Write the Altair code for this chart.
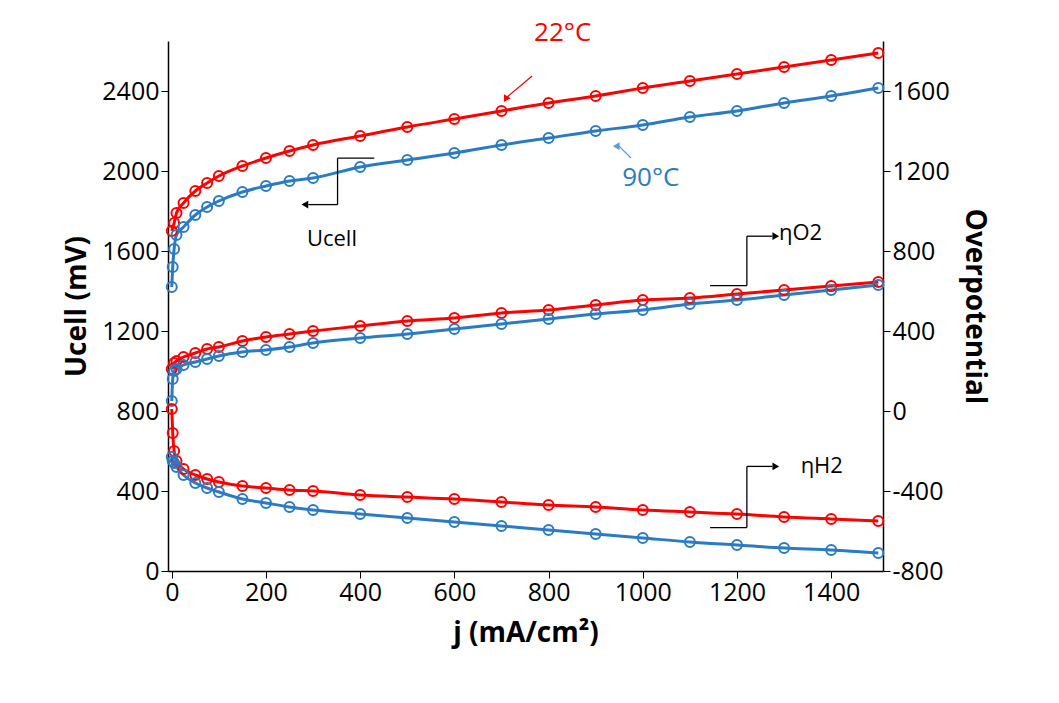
import altair as alt
import pandas as pd

j_22 = [0, 5, 10, 25, 50, 75, 100, 150, 200, 250, 300, 400, 500, 600, 700, 800, 900, 1000, 1100, 1200, 1300, 1400, 1500]
j_90 = [0, 2, 5, 10, 25, 50, 75, 100, 150, 200, 250, 300, 400, 500, 600, 700, 800, 900, 1000, 1100, 1200, 1300, 1400, 1500]
j_h22 = j_90

u_22 = [1700, 1740, 1790, 1840, 1900, 1940, 1975, 2025, 2065, 2100, 2130, 2175, 2220, 2260, 2300, 2340, 2375, 2415, 2450, 2485, 2520, 2555, 2590]
u_90 = [1420, 1520, 1610, 1680, 1720, 1780, 1820, 1850, 1895, 1925, 1950, 1965, 2020, 2055, 2090, 2130, 2165, 2200, 2230, 2270, 2300, 2340, 2375, 2415]
# overpotentials, plotted on the left scale (overpotential + 800)
o2_22 = [1010, 1040, 1050, 1070, 1090, 1110, 1120, 1150, 1170, 1185, 1200, 1225, 1250, 1265, 1290, 1305, 1330, 1355, 1365, 1385, 1405, 1425, 1445]
o2_90 = [850, 960, 1000, 1010, 1030, 1045, 1060, 1075, 1095, 1105, 1120, 1140, 1165, 1185, 1210, 1235, 1260, 1285, 1305, 1335, 1355, 1380, 1405, 1430]
h2_22 = [810, 690, 600, 550, 510, 480, 460, 445, 425, 415, 405, 400, 380, 370, 360, 345, 330, 320, 305, 295, 285, 270, 260, 250]
h2_90 = [570, 550, 540, 520, 480, 440, 415, 395, 360, 340, 320, 305, 285, 265, 245, 225, 205, 185, 165, 145, 130, 115, 105, 90]

RED = "#FF0000"
BLUE = "#2B7BC4"
LBLUE = "#5B9BD5"

rows = []
for name, js, vs, c in [
    ("u22", j_22, u_22, RED), ("u90", j_90, u_90, BLUE),
    ("o22", j_22, o2_22, RED), ("o90", j_90, o2_90, BLUE),
    ("h22", j_h22, h2_22, RED), ("h90", j_90, h2_90, BLUE),
]:
    for x, v in zip(js, vs):
        rows.append({"series": name, "j": x, "v": v, "c": c})
df = pd.DataFrame(rows)

xs = alt.Scale(domain=[-8, 1510], nice=False)
ys = alt.Scale(domain=[0, 2650], nice=False)
col = alt.Color("c:N", scale=None)

ax = dict(grid=False, titleFontSize=28, labelFontSize=25, titleFontWeight="bold", domainColor="black",
          tickColor="black", labelColor="black", titleColor="black", labelExpr="'' + datum.value")

x_enc = alt.X("j:Q", scale=xs, axis=alt.Axis(title="j (mA/cm²)", values=list(range(0, 1501, 200)),
                                            titlePadding=14, **ax))
y_enc = alt.Y("v:Q", scale=ys, axis=alt.Axis(title="Ucell (mV)", values=list(range(0, 2401, 400)),
                                            titlePadding=10, **ax))

lines = alt.Chart(df).mark_line(interpolate="monotone", strokeWidth=3).encode(
    x=x_enc, y=y_enc, color=col, detail="series:N")
pts = alt.Chart(df).mark_point(size=100, strokeWidth=2, filled=False, opacity=1).encode(
    x=alt.X("j:Q", scale=xs), y=alt.Y("v:Q", scale=ys), color=col, detail="series:N")

# annotations
seg_j = [430, 352, 1143, 1221, 1143, 1221, 765, 975]
seg_v = [2064, 2064, 1427, 1427, 217, 217, 2475, 2065]
seg_j2 = [352, 352, 1221, 1221, 1221, 1221, 712, 948]
seg_v2 = [2064, 1832, 1427, 1674, 217, 523, 2370, 2128]
seg_c = ["black"] * 6 + [RED, LBLUE]
segs = pd.DataFrame({"j": seg_j, "v": seg_v, "j2": seg_j2, "v2": seg_v2, "c": seg_c})
rules = alt.Chart(segs).mark_rule(strokeWidth=1.3).encode(
    x=alt.X("j:Q", scale=xs), y=alt.Y("v:Q", scale=ys), x2="j2", y2="v2", color=col)

hseg_j = [352, 1221, 1221]
hseg_v = [1832, 1674, 523]
hseg_j2 = [290, 1275, 1275]
hsegs = pd.DataFrame({"j": hseg_j, "v": hseg_v, "j2": hseg_j2, "c": ["black"] * 3})
hrules = alt.Chart(hsegs).mark_rule(strokeWidth=1.3).encode(
    x=alt.X("j:Q", scale=xs), y=alt.Y("v:Q", scale=ys), x2="j2", color=col)

head_j = [285, 1280, 1280, 710, 946]
head_v = [1832, 1674, 523, 2364, 2124]
head_a = [270, 90, 90, 210, 150]
head_c = ["black", "black", "black", RED, LBLUE]
heads = alt.Chart(pd.DataFrame({"j": head_j, "v": head_v, "a": head_a, "c": head_c})).mark_point(
    shape="triangle", filled=True, size=60, opacity=1).encode(
    x=alt.X("j:Q", scale=xs), y=alt.Y("v:Q", scale=ys), angle=alt.Angle("a:Q", scale=None), color=col)

lab_j = [830, 1017, 340, 1335, 1380]
lab_v = [2690, 1965, 1660, 1690, 523]
lab_t = ["22°C", "90°C", "Ucell", "ηO2", "ηH2"]
lab_c = [RED, BLUE, "black", "black", "black"]
lab_s = [26, 26, 22, 22, 22]
labels = alt.Chart(pd.DataFrame({"j": lab_j, "v": lab_v, "t": lab_t, "c": lab_c, "s": lab_s})).mark_text(
    font="Open Sans", align="center").encode(
    x=alt.X("j:Q", scale=xs), y=alt.Y("v:Q", scale=ys), text="t:N", color=col,
    size=alt.Size("s:Q", scale=None))

left = lines + pts + rules + hrules + heads + labels

right = alt.Chart(pd.DataFrame({"j": [0], "o": [0]})).mark_point(opacity=0).encode(
    x=alt.X("j:Q", scale=xs),
    y=alt.Y("o:Q", scale=alt.Scale(domain=[-800, 1850], nice=False),
            axis=alt.Axis(orient="right", title="Overpotential", values=list(range(-800, 1601, 400)),
                          titlePadding=10, **ax)))

chart = alt.layer(left, right).resolve_scale(y="independent").properties(
    width=715, height=530, padding={"left": 55, "top": 12, "right": 15, "bottom": 5}
).configure_view(stroke=None).configure_axis(
    labelFont="Open Sans", titleFont="Open Sans", domainWidth=1.5, tickSize=7
)

chart.save("out.html", embed_options={"renderer": "svg", "actions": False})
